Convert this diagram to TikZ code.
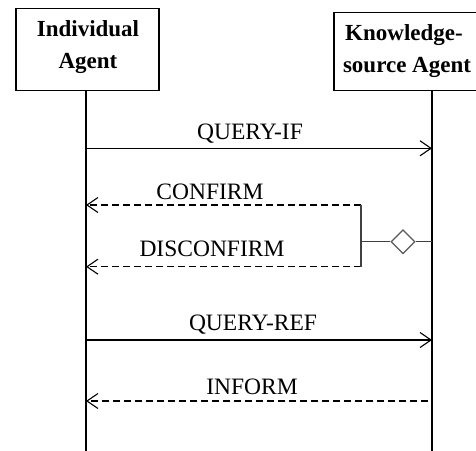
\documentclass[tikz,border=0pt]{standalone}
\usepackage{fontspec}
\setmainfont{Liberation Serif}
\usetikzlibrary{arrows.meta,shapes.geometric}
\begin{document}
\begin{tikzpicture}[x=1pt,y=-1pt,
  agentbox/.style={draw,line width=1.3pt,inner sep=0pt},
  hdr/.style={font=\fontsize{23}{27}\selectfont\bfseries,anchor=base,inner sep=0pt},
  lbl/.style={font=\fontsize{23.5}{27}\selectfont,anchor=base,inner sep=0pt},
  life/.style={line width=1.2pt},
  msg/.style={line width=1.2pt,-{Straight Barb[length=11pt,width=15pt,line width=1.1pt]}},
  reply/.style={msg,dash pattern=on 7pt off 4pt},
  choice/.style={line width=1.2pt,black!75},
  dia/.style={diamond,draw,black!65,line width=1.2pt,minimum width=24pt,minimum height=24pt,inner sep=0pt}]
\clip (0,0) rectangle (476,450);
% agent boxes
\node[agentbox,minimum width=143pt,minimum height=82pt] (ia) at (87.4,49.2) {};
\node[agentbox,minimum width=150pt,minimum height=78pt] (ka) at (409,51.2) {};
\node[hdr] (ia1) at (88,36.7) {Individual};
\node[hdr] (ia2) at (88,68.5) {Agent};
\node[hdr] (ka1) at (404,40) {Knowledge-};
\node[hdr] (ka2) at (407,72) {source Agent};
% lifelines
\coordinate (ltop) at (86,90);
\coordinate (lbot) at (86,452);
\coordinate (rtop) at (432,90);
\coordinate (rbot) at (432,452);
\draw[life] (ltop) -- (lbot);
\draw[life] (rtop) -- (rbot);
% QUERY-IF
\coordinate (q1a) at (86,148.3);
\coordinate (q1b) at (432,148.3);
\draw[msg] (q1a) -- (q1b);
\node[lbl] (t1) at (250,139) {QUERY-IF};
% CONFIRM / DISCONFIRM
\coordinate (c1) at (361,205);
\coordinate (c1e) at (86,205);
\coordinate (d1) at (361,266.7);
\coordinate (d1e) at (86,266.7);
\coordinate (bm) at (361,241.7);
\coordinate (rm) at (432,241.7);
\node[dia] (dm) at (403,241.7) {};
\draw[reply] (c1) -- (c1e);
\draw[reply] (d1) -- (d1e);
\draw[choice] (c1) -- (d1);
\draw[choice] (bm) -- (dm.west);
\draw[choice] (dm.east) -- (rm);
\node[lbl] (t2) at (210,199.3) {CONFIRM};
\node[lbl] (t3) at (212,256) {DISCONFIRM};
% QUERY-REF
\coordinate (q2a) at (86,340);
\coordinate (q2b) at (432,340);
\draw[msg] (q2a) -- (q2b);
\node[lbl] (t4) at (253,330) {QUERY-REF};
% INFORM
\coordinate (i1) at (428,401);
\coordinate (i1e) at (86,401);
\draw[reply] (i1) -- (i1e);
\node[lbl] (t5) at (252,394) {INFORM};
\end{tikzpicture}
\end{document}
